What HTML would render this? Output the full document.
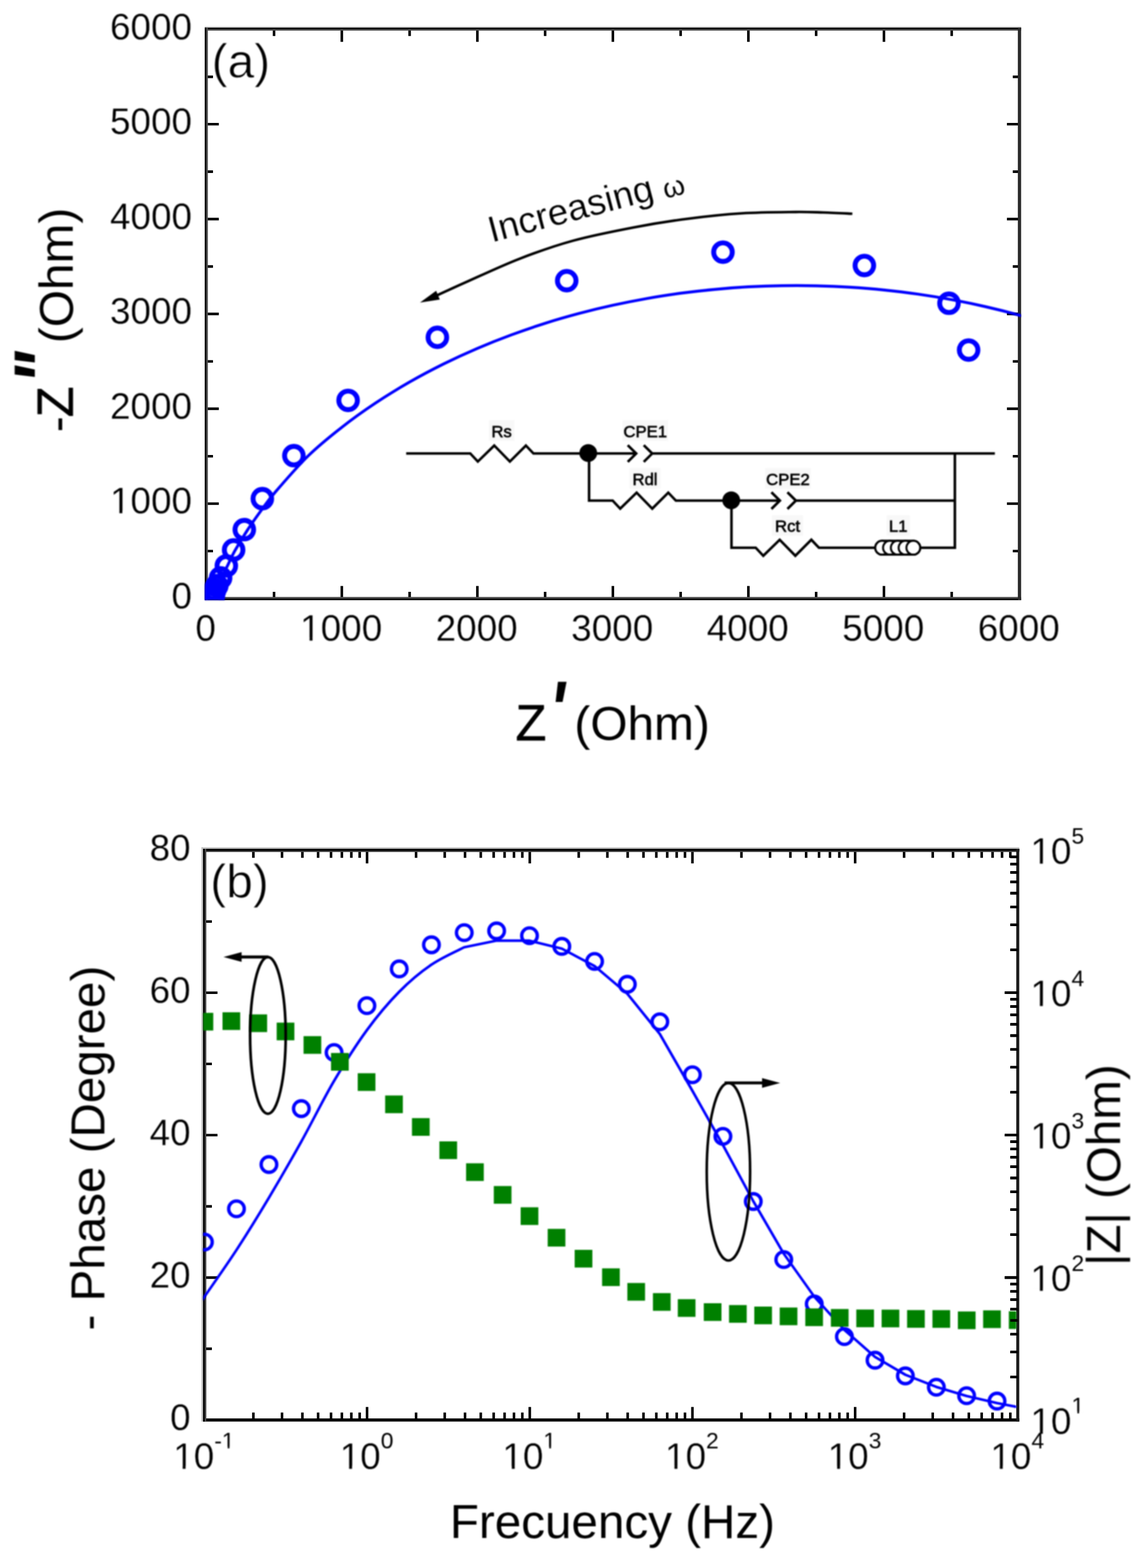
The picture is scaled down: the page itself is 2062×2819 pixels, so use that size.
<!DOCTYPE html>
<html lang="en">
<head>
<meta charset="utf-8">
<title>Impedance spectra: Nyquist and Bode plots</title>
<style>
html,body{margin:0;padding:0;background:#fff;}
body{width:2062px;height:2819px;overflow:hidden;}
svg{display:block;}
svg text{font-family:"Liberation Sans", sans-serif;fill:#000;}
svg text.tk{stroke:#fff;stroke-width:0.35px;}
svg text.pl{stroke:#fff;stroke-width:1.0px;}
svg text.bz{stroke:#000;stroke-width:0.9px;}
</style>
</head>
<body>
<svg width="2062" height="2819" viewBox="0 0 2062 2819">
<defs><filter id="bl" x="-2%" y="-2%" width="104%" height="104%" color-interpolation-filters="sRGB"><feGaussianBlur stdDeviation="0.8"/></filter></defs>
<rect width="2062" height="2819" fill="#fff"/>
<g id="plotA">
<path d="M492.7,1076.0 v-12.0 M492.7,52.8 v12.0 M370.9,990.7 h12.0 M1832.7,990.7 h-12.0 M614.5,1076.0 v-22.5 M614.5,52.8 v22.5 M370.9,905.5 h22.5 M1832.7,905.5 h-22.5 M736.4,1076.0 v-12.0 M736.4,52.8 v12.0 M370.9,820.2 h12.0 M1832.7,820.2 h-12.0 M858.2,1076.0 v-22.5 M858.2,52.8 v22.5 M370.9,734.9 h22.5 M1832.7,734.9 h-22.5 M980.0,1076.0 v-12.0 M980.0,52.8 v12.0 M370.9,649.7 h12.0 M1832.7,649.7 h-12.0 M1101.8,1076.0 v-22.5 M1101.8,52.8 v22.5 M370.9,564.4 h22.5 M1832.7,564.4 h-22.5 M1223.6,1076.0 v-12.0 M1223.6,52.8 v12.0 M370.9,479.1 h12.0 M1832.7,479.1 h-12.0 M1345.4,1076.0 v-22.5 M1345.4,52.8 v22.5 M370.9,393.9 h22.5 M1832.7,393.9 h-22.5 M1467.2,1076.0 v-12.0 M1467.2,52.8 v12.0 M370.9,308.6 h12.0 M1832.7,308.6 h-12.0 M1589.1,1076.0 v-22.5 M1589.1,52.8 v22.5 M370.9,223.3 h22.5 M1832.7,223.3 h-22.5 M1710.9,1076.0 v-12.0 M1710.9,52.8 v12.0 M370.9,138.1 h12.0 M1832.7,138.1 h-12.0" stroke="#000" stroke-width="4.6" fill="none"/>
<rect x="368.1" y="46.9" width="1467.6" height="2.8" fill="#e4e4e4"/>
<rect x="368.1" y="1078.9" width="1467.6" height="2.7" fill="#f0f0f0"/>
<rect x="368.1" y="49.7" width="1467.6" height="5.4" fill="#505050"/>
<rect x="368.1" y="49.7" width="1467.6" height="2.7" fill="#000"/>
<rect x="368.1" y="1073.2" width="1467.6" height="5.7" fill="#505050"/>
<rect x="368.1" y="1076.2" width="1467.6" height="2.7" fill="#000"/>
<rect x="368.1" y="49.7" width="5.6" height="1029.2" fill="#505050"/>
<rect x="368.1" y="49.7" width="2.8" height="1029.2" fill="#000"/>
<rect x="1829.8" y="49.7" width="5.9" height="1029.2" fill="#2a2a2a"/>
<g filter="url(#bl)">
<text class="tk" x="351.26" y="1151.60" font-size="66.3">0</text>
<text class="tk" x="308.33" y="1093.90" font-size="66.3">0</text>
<text class="tk" x="539.59" y="1151.60" font-size="66.3">1000</text>
<rect x="543.94" y="1146.15" width="12.62" height="6.15" fill="#fff"/><rect x="561.82" y="1146.15" width="12.10" height="6.15" fill="#fff"/>
<text class="tk" x="197.71" y="923.37" font-size="66.3">1000</text>
<rect x="202.06" y="917.91" width="12.62" height="6.15" fill="#fff"/><rect x="219.94" y="917.91" width="12.10" height="6.15" fill="#fff"/>
<text class="tk" x="783.22" y="1151.60" font-size="66.3">2000</text>
<text class="tk" x="197.71" y="752.83" font-size="66.3">2000</text>
<text class="tk" x="1026.85" y="1151.60" font-size="66.3">3000</text>
<text class="tk" x="197.71" y="582.30" font-size="66.3">3000</text>
<text class="tk" x="1270.49" y="1151.60" font-size="66.3">4000</text>
<text class="tk" x="197.71" y="411.77" font-size="66.3">4000</text>
<text class="tk" x="1514.12" y="1151.60" font-size="66.3">5000</text>
<text class="tk" x="197.71" y="241.23" font-size="66.3">5000</text>
<text class="tk" x="1757.75" y="1151.60" font-size="66.3">6000</text>
<text class="tk" x="197.71" y="70.70" font-size="66.3">6000</text>
<text class="pl" x="380.5" y="138.8" font-size="86">(a)</text>
<text class="bz" x="926.8" y="1330.6" font-size="91">Z</text>
<text transform="translate(987.5,1326) scale(1.22,1.5)" font-size="96" font-weight="bold" font-style="italic">'</text>
<text x="1032.5" y="1330.3" font-size="86">(Ohm)</text>
<g transform="translate(130.8,0) rotate(-90)">
<text x="-777" y="0" font-size="86">-</text>
<text class="bz" x="-750.3" y="0" font-size="91">Z</text>
<text transform="translate(-691,-4.2) scale(1.3,1.5)" font-size="96" font-weight="bold" font-style="italic">"</text>
<text x="-617" y="0" font-size="86">(Ohm)</text>
</g>
<clipPath id="clipA"><rect x="368.3" y="50.2" width="1467.0" height="1028.4"/></clipPath>
<g clip-path="url(#clipA)">
<path d="M384.5,1078.0 C385.4,1075.0 387.8,1066.3 390.0,1060.0 C392.2,1053.7 394.7,1047.5 398.0,1040.0 C401.3,1032.5 405.9,1023.3 410.0,1015.0 C414.1,1006.7 416.6,1000.2 422.3,990.0 C428.1,979.8 436.7,965.5 444.5,953.5 C452.3,941.5 460.8,929.6 469.1,918.3 C477.4,907.0 480.1,901.9 494.2,885.5 C508.3,869.1 533.6,839.6 553.6,820.0 C573.7,800.5 594.2,784.1 614.5,768.2 C634.8,752.2 655.1,737.9 675.4,724.4 C695.7,710.8 716.0,698.5 736.4,686.8 C756.7,675.2 777.0,664.5 797.3,654.4 C817.6,644.3 837.9,635.0 858.2,626.3 C878.5,617.6 898.8,609.6 919.1,602.1 C939.4,594.6 959.7,587.7 980.0,581.2 C1000.3,574.8 1020.6,569.0 1040.9,563.6 C1061.2,558.1 1081.5,553.2 1101.8,548.8 C1122.1,544.3 1142.4,540.3 1162.7,536.7 C1183.0,533.1 1203.3,530.0 1223.6,527.2 C1243.9,524.5 1264.2,522.2 1284.5,520.3 C1304.8,518.3 1325.1,516.8 1345.4,515.7 C1365.7,514.6 1386.0,513.9 1406.3,513.6 C1426.6,513.3 1446.9,513.3 1467.2,513.8 C1487.6,514.3 1507.9,515.1 1528.2,516.4 C1548.5,517.7 1568.8,519.3 1589.1,521.4 C1609.4,523.5 1629.7,525.9 1650.0,528.8 C1670.3,531.7 1690.6,535.0 1710.9,538.8 C1731.2,542.5 1751.5,546.7 1771.8,551.4 C1792.1,556.0 1812.4,561.1 1832.7,566.7 C1853.0,572.3 1883.5,581.9 1893.6,585.0" stroke="#0000ff" stroke-width="5.2" fill="none"/>
<circle cx="383.0" cy="1077.0" r="16.7" fill="none" stroke="#0000ff" stroke-width="8.9"/>
<circle cx="383.0" cy="1075.5" r="16.7" fill="none" stroke="#0000ff" stroke-width="8.9"/>
<circle cx="383.1" cy="1074.0" r="16.7" fill="none" stroke="#0000ff" stroke-width="8.9"/>
<circle cx="383.3" cy="1072.0" r="16.7" fill="none" stroke="#0000ff" stroke-width="8.9"/>
<circle cx="383.6" cy="1069.5" r="16.7" fill="none" stroke="#0000ff" stroke-width="8.9"/>
<circle cx="384.3" cy="1066.0" r="16.7" fill="none" stroke="#0000ff" stroke-width="8.9"/>
<circle cx="386.0" cy="1061.0" r="16.7" fill="none" stroke="#0000ff" stroke-width="8.9"/>
<circle cx="389.8" cy="1053.0" r="16.7" fill="none" stroke="#0000ff" stroke-width="8.9"/>
<circle cx="396.6" cy="1039.0" r="16.7" fill="none" stroke="#0000ff" stroke-width="8.9"/>
<circle cx="406.9" cy="1017.3" r="16.7" fill="none" stroke="#0000ff" stroke-width="8.9"/>
<circle cx="420.0" cy="988.6" r="16.7" fill="none" stroke="#0000ff" stroke-width="8.9"/>
<circle cx="439.2" cy="952.2" r="16.7" fill="none" stroke="#0000ff" stroke-width="8.9"/>
<circle cx="471.6" cy="896.5" r="16.7" fill="none" stroke="#0000ff" stroke-width="8.9"/>
<circle cx="528.3" cy="819.2" r="16.7" fill="none" stroke="#0000ff" stroke-width="8.9"/>
<circle cx="625.8" cy="719.8" r="16.7" fill="none" stroke="#0000ff" stroke-width="8.9"/>
<circle cx="786.3" cy="606.4" r="16.7" fill="none" stroke="#0000ff" stroke-width="8.9"/>
<circle cx="1018.8" cy="504.6" r="16.7" fill="none" stroke="#0000ff" stroke-width="8.9"/>
<circle cx="1299.7" cy="453.3" r="16.7" fill="none" stroke="#0000ff" stroke-width="8.9"/>
<circle cx="1553.9" cy="477.3" r="16.7" fill="none" stroke="#0000ff" stroke-width="8.9"/>
<circle cx="1706.0" cy="545.2" r="16.7" fill="none" stroke="#0000ff" stroke-width="8.9"/>
<circle cx="1741.3" cy="629.3" r="16.7" fill="none" stroke="#0000ff" stroke-width="8.9"/>
</g>
<path d="M1532.3,384.3 C1523.6,383.9 1497.0,382.5 1480.0,382.0 C1463.0,381.5 1455.0,380.9 1430.6,381.1 C1406.2,381.4 1366.0,381.5 1333.7,383.5 C1301.4,385.5 1269.2,389.0 1236.9,393.2 C1204.6,397.4 1174.4,402.1 1140.0,408.7 C1105.6,415.3 1065.0,423.2 1030.6,432.6 C996.2,442.0 966.0,452.8 933.7,465.3 C901.4,477.8 862.5,496.3 836.9,507.7 C811.3,519.1 789.5,529.2 780.0,533.5" stroke="#000" stroke-width="4.6" fill="none"/>
<path d="M755.0,544.0 L784.1,522.8 L790.6,538.5 Z" fill="#000"/>
<g transform="translate(884,436) rotate(-14.8)"><text class="tk" x="0" y="0" font-size="66">Increasing</text></g>
<g transform="translate(1212.6,342.2) rotate(-14.8) scale(0.9,0.9)"><text x="0" y="11.5" font-size="56" text-anchor="middle" font-family="'Liberation Serif', 'DejaVu Serif', serif">ω</text></g>
<path d="M730.2,815.3 L845.4,815.3 L859.0,829.8 L888.5,801.0 L916.6,829.8 L945.4,801.0 L959.0,815.3 L1143.0,815.3 M1128.5,800.3 L1143.7,815.3 L1128.5,830.3 M1157.3,800.3 L1172.5,815.3 L1157.3,830.3 M1172.5,815.3 L1788.5,815.3 M1059.0,815.3 L1059.0,900.0 L1101.4,900.0 L1115.0,914.5 L1144.5,885.7 L1172.6,914.5 L1201.4,885.7 L1215.0,900.0 L1401.5,900.0 M1386.8,885.0 L1402.0,900.0 L1386.8,915.0 M1415.6,885.0 L1430.8,900.0 L1415.6,915.0 M1430.8,900.0 L1716.6,900.0 M1315.0,900.0 L1315.0,984.7 L1358.6,984.7 L1372.2,999.2 L1401.7,970.4 L1429.8,999.2 L1458.6,970.4 L1472.2,984.7 L1574.0,984.7 M1654.0,984.7 L1716.6,984.7 L1716.6,815.3" stroke="#000" stroke-width="4.6" fill="none" stroke-linejoin="miter"/>
<circle cx="1057.5" cy="814.5" r="16" fill="#000"/>
<circle cx="1314.6" cy="899.5" r="16" fill="#000"/>
<rect x="1573.5" y="972.3" width="80.8" height="24.8" rx="12.4" fill="#fff" stroke="#000" stroke-width="4"/>
<circle cx="1585.9" cy="984.7" r="12.4" fill="#fff" stroke="#000" stroke-width="3.6"/>
<circle cx="1599.9" cy="984.7" r="12.4" fill="#fff" stroke="#000" stroke-width="3.6"/>
<circle cx="1613.9" cy="984.7" r="12.4" fill="#fff" stroke="#000" stroke-width="3.6"/>
<circle cx="1627.9" cy="984.7" r="12.4" fill="#fff" stroke="#000" stroke-width="3.6"/>
<circle cx="1641.9" cy="984.7" r="12.4" fill="#fff" stroke="#000" stroke-width="3.6"/>
<rect x="878.8" y="755.5" width="46.0" height="37" fill="#f8f8f8"/>
<text x="901.8" y="785.5" font-size="30" text-anchor="middle" stroke="#000" stroke-width="1.0">Rs</text>
<rect x="1119.0" y="755.5" width="82.0" height="37" fill="#f8f8f8"/>
<text x="1160.0" y="785.5" font-size="30" text-anchor="middle" stroke="#000" stroke-width="1.0">CPE1</text>
<rect x="1131.5" y="841.5" width="56.0" height="37" fill="#f8f8f8"/>
<text x="1159.5" y="871.5" font-size="30" text-anchor="middle" stroke="#000" stroke-width="1.0">Rdl</text>
<rect x="1375.5" y="841.5" width="82.0" height="37" fill="#f8f8f8"/>
<text x="1416.5" y="871.5" font-size="30" text-anchor="middle" stroke="#000" stroke-width="1.0">CPE2</text>
<rect x="1387.8" y="926.3" width="56.0" height="37" fill="#f8f8f8"/>
<text x="1415.8" y="956.3" font-size="30" text-anchor="middle" stroke="#000" stroke-width="1.0">Rct</text>
<rect x="1593.7" y="926.3" width="42.0" height="37" fill="#f8f8f8"/>
<text x="1614.7" y="956.3" font-size="30" text-anchor="middle" stroke="#000" stroke-width="1.0">L1</text>
</g>
</g>
<g id="plotB">
<path d="M455.5,2552.9 v-13.4 M455.5,1528.8 v13.4 M507.0,2552.9 v-13.4 M507.0,1528.8 v13.4 M543.6,2552.9 v-13.4 M543.6,1528.8 v13.4 M571.9,2552.9 v-13.4 M571.9,1528.8 v13.4 M595.1,2552.9 v-13.4 M595.1,1528.8 v13.4 M614.6,2552.9 v-13.4 M614.6,1528.8 v13.4 M631.6,2552.9 v-13.4 M631.6,1528.8 v13.4 M646.6,2552.9 v-13.4 M646.6,1528.8 v13.4 M659.9,2552.9 v-23.5 M659.9,1528.8 v23.5 M748.0,2552.9 v-13.4 M748.0,1528.8 v13.4 M799.5,2552.9 v-13.4 M799.5,1528.8 v13.4 M836.0,2552.9 v-13.4 M836.0,1528.8 v13.4 M864.3,2552.9 v-13.4 M864.3,1528.8 v13.4 M887.5,2552.9 v-13.4 M887.5,1528.8 v13.4 M907.1,2552.9 v-13.4 M907.1,1528.8 v13.4 M924.0,2552.9 v-13.4 M924.0,1528.8 v13.4 M939.0,2552.9 v-13.4 M939.0,1528.8 v13.4 M952.4,2552.9 v-23.5 M952.4,1528.8 v23.5 M1040.4,2552.9 v-13.4 M1040.4,1528.8 v13.4 M1091.9,2552.9 v-13.4 M1091.9,1528.8 v13.4 M1128.4,2552.9 v-13.4 M1128.4,1528.8 v13.4 M1156.8,2552.9 v-13.4 M1156.8,1528.8 v13.4 M1179.9,2552.9 v-13.4 M1179.9,1528.8 v13.4 M1199.5,2552.9 v-13.4 M1199.5,1528.8 v13.4 M1216.5,2552.9 v-13.4 M1216.5,1528.8 v13.4 M1231.4,2552.9 v-13.4 M1231.4,1528.8 v13.4 M1244.8,2552.9 v-23.5 M1244.8,1528.8 v23.5 M1332.9,2552.9 v-13.4 M1332.9,1528.8 v13.4 M1384.3,2552.9 v-13.4 M1384.3,1528.8 v13.4 M1420.9,2552.9 v-13.4 M1420.9,1528.8 v13.4 M1449.2,2552.9 v-13.4 M1449.2,1528.8 v13.4 M1472.4,2552.9 v-13.4 M1472.4,1528.8 v13.4 M1492.0,2552.9 v-13.4 M1492.0,1528.8 v13.4 M1508.9,2552.9 v-13.4 M1508.9,1528.8 v13.4 M1523.9,2552.9 v-13.4 M1523.9,1528.8 v13.4 M1537.3,2552.9 v-23.5 M1537.3,1528.8 v23.5 M1625.3,2552.9 v-13.4 M1625.3,1528.8 v13.4 M1676.8,2552.9 v-13.4 M1676.8,1528.8 v13.4 M1713.3,2552.9 v-13.4 M1713.3,1528.8 v13.4 M1741.7,2552.9 v-13.4 M1741.7,1528.8 v13.4 M1764.8,2552.9 v-13.4 M1764.8,1528.8 v13.4 M1784.4,2552.9 v-13.4 M1784.4,1528.8 v13.4 M1801.4,2552.9 v-13.4 M1801.4,1528.8 v13.4 M1816.3,2552.9 v-13.4 M1816.3,1528.8 v13.4 M367.5,2424.9 h13.4 M367.5,2296.9 h23.5 M367.5,2168.9 h13.4 M367.5,2040.8 h23.5 M367.5,1912.8 h13.4 M367.5,1784.8 h23.5 M367.5,1656.8 h13.4 M1829.7,2475.8 h-13.4 M1829.7,2430.7 h-13.4 M1829.7,2398.8 h-13.4 M1829.7,2373.9 h-13.4 M1829.7,2353.7 h-13.4 M1829.7,2336.5 h-13.4 M1829.7,2321.7 h-13.4 M1829.7,2308.6 h-13.4 M1829.7,2296.9 h-23.5 M1829.7,2219.8 h-13.4 M1829.7,2174.7 h-13.4 M1829.7,2142.7 h-13.4 M1829.7,2117.9 h-13.4 M1829.7,2097.6 h-13.4 M1829.7,2080.5 h-13.4 M1829.7,2065.7 h-13.4 M1829.7,2052.6 h-13.4 M1829.7,2040.8 h-23.5 M1829.7,1963.8 h-13.4 M1829.7,1918.7 h-13.4 M1829.7,1886.7 h-13.4 M1829.7,1861.9 h-13.4 M1829.7,1841.6 h-13.4 M1829.7,1824.5 h-13.4 M1829.7,1809.6 h-13.4 M1829.7,1796.5 h-13.4 M1829.7,1784.8 h-23.5 M1829.7,1707.8 h-13.4 M1829.7,1662.7 h-13.4 M1829.7,1630.7 h-13.4 M1829.7,1605.9 h-13.4 M1829.7,1585.6 h-13.4 M1829.7,1568.5 h-13.4 M1829.7,1553.6 h-13.4 M1829.7,1540.5 h-13.4" stroke="#000" stroke-width="4.6" fill="none"/>
<rect x="362.1" y="1523.3" width="3.0" height="1032.4" fill="#c0c0c0"/>
<rect x="362.1" y="1523.3" width="1470.3" height="2.7" fill="#c0c0c0"/>
<rect x="365.1" y="1526.0" width="1467.3" height="5.8" fill="#484848"/>
<rect x="365.1" y="1526.0" width="1467.3" height="3.7" fill="#000"/>
<rect x="365.1" y="2550.1" width="1467.3" height="5.6" fill="#000"/>
<rect x="365.1" y="1526.0" width="5.8" height="1029.7" fill="#484848"/>
<rect x="365.1" y="1526.0" width="3.0" height="1029.7" fill="#000"/>
<rect x="1827.0" y="1526.0" width="5.4" height="1029.7" fill="#1c1c1c"/>
<g filter="url(#bl)">
<text class="tk" x="305.83" y="2571.40" font-size="66.3">0</text>
<text class="tk" x="268.95" y="2315.38" font-size="66.3">20</text>
<text class="tk" x="268.95" y="2059.35" font-size="66.3">40</text>
<text class="tk" x="268.95" y="1803.33" font-size="66.3">60</text>
<text class="tk" x="268.95" y="1547.30" font-size="66.3">80</text>
<text class="tk" x="1852.50" y="2577.50" font-size="66.3">10<tspan font-size="41" dy="-36.6" stroke="none">1</tspan></text>
<rect x="1856.85" y="2572.05" width="12.62" height="6.15" fill="#fff"/><rect x="1874.73" y="2572.05" width="12.10" height="6.15" fill="#fff"/><rect x="1928.67" y="2537.34" width="8.19" height="4.26" fill="#fff"/><rect x="1939.88" y="2537.34" width="7.87" height="4.26" fill="#fff"/>
<text class="tk" x="1852.50" y="2321.47" font-size="66.3">10<tspan font-size="41" dy="-36.6" stroke="none">2</tspan></text>
<rect x="1856.85" y="2316.02" width="12.62" height="6.15" fill="#fff"/><rect x="1874.73" y="2316.02" width="12.10" height="6.15" fill="#fff"/>
<text class="tk" x="1852.50" y="2065.45" font-size="66.3">10<tspan font-size="41" dy="-36.6" stroke="none">3</tspan></text>
<rect x="1856.85" y="2060.00" width="12.62" height="6.15" fill="#fff"/><rect x="1874.73" y="2060.00" width="12.10" height="6.15" fill="#fff"/>
<text class="tk" x="1852.50" y="1809.42" font-size="66.3">10<tspan font-size="41" dy="-36.6" stroke="none">4</tspan></text>
<rect x="1856.85" y="1803.97" width="12.62" height="6.15" fill="#fff"/><rect x="1874.73" y="1803.97" width="12.10" height="6.15" fill="#fff"/>
<text class="tk" x="1852.50" y="1553.40" font-size="66.3">10<tspan font-size="41" dy="-36.6" stroke="none">5</tspan></text>
<rect x="1856.85" y="1547.95" width="12.62" height="6.15" fill="#fff"/><rect x="1874.73" y="1547.95" width="12.10" height="6.15" fill="#fff"/>
<text class="tk" x="311.40" y="2641.00" font-size="66.3">10<tspan font-size="41" dy="-36.6" stroke="none">-1</tspan></text>
<rect x="315.75" y="2635.55" width="12.62" height="6.15" fill="#fff"/><rect x="333.63" y="2635.55" width="12.10" height="6.15" fill="#fff"/><rect x="401.22" y="2600.84" width="8.19" height="4.26" fill="#fff"/><rect x="412.43" y="2600.84" width="7.87" height="4.26" fill="#fff"/>
<text class="tk" x="610.67" y="2641.00" font-size="66.3">10<tspan font-size="41" dy="-36.6" stroke="none">0</tspan></text>
<rect x="615.02" y="2635.55" width="12.62" height="6.15" fill="#fff"/><rect x="632.90" y="2635.55" width="12.10" height="6.15" fill="#fff"/>
<text class="tk" x="903.11" y="2641.00" font-size="66.3">10<tspan font-size="41" dy="-36.6" stroke="none">1</tspan></text>
<rect x="907.46" y="2635.55" width="12.62" height="6.15" fill="#fff"/><rect x="925.34" y="2635.55" width="12.10" height="6.15" fill="#fff"/><rect x="979.28" y="2600.84" width="8.19" height="4.26" fill="#fff"/><rect x="990.49" y="2600.84" width="7.87" height="4.26" fill="#fff"/>
<text class="tk" x="1195.55" y="2641.00" font-size="66.3">10<tspan font-size="41" dy="-36.6" stroke="none">2</tspan></text>
<rect x="1199.90" y="2635.55" width="12.62" height="6.15" fill="#fff"/><rect x="1217.78" y="2635.55" width="12.10" height="6.15" fill="#fff"/>
<text class="tk" x="1487.99" y="2641.00" font-size="66.3">10<tspan font-size="41" dy="-36.6" stroke="none">3</tspan></text>
<rect x="1492.34" y="2635.55" width="12.62" height="6.15" fill="#fff"/><rect x="1510.22" y="2635.55" width="12.10" height="6.15" fill="#fff"/>
<text class="tk" x="1780.43" y="2641.00" font-size="66.3">10<tspan font-size="41" dy="-36.6" stroke="none">4</tspan></text>
<rect x="1784.78" y="2635.55" width="12.62" height="6.15" fill="#fff"/><rect x="1802.66" y="2635.55" width="12.10" height="6.15" fill="#fff"/>
<text class="pl" x="378" y="1614.3" font-size="86">(b)</text>
<text x="1101" y="2764.6" font-size="85.5" text-anchor="middle">Frecuency (Hz)</text>
<text transform="translate(187.6,2064) rotate(-90)" font-size="85.5" text-anchor="middle">- Phase (Degree)</text>
<text transform="translate(2013.6,2094.6) rotate(-90)" font-size="85.5" text-anchor="middle">|Z| (Ohm)</text>
<clipPath id="clipB"><rect x="365.3" y="1526.2" width="1461.9" height="1029.3"/></clipPath>
<g clip-path="url(#clipB)">
<path d="M364.0,2336.8 C364.6,2335.9 357.3,2346.2 367.5,2331.3 C377.7,2316.4 405.8,2277.0 425.1,2247.3 C444.4,2217.6 464.1,2185.7 483.5,2153.2 C502.9,2120.7 522.1,2087.5 541.6,2052.5 C561.1,2017.5 580.9,1976.7 600.6,1943.3 C620.3,1909.9 640.1,1878.7 659.6,1852.0 C679.1,1825.3 698.4,1802.6 717.7,1783.0 C737.0,1763.4 756.1,1747.6 775.6,1734.3 C795.1,1721.0 824.8,1708.2 834.6,1703.0 L893.0,1691.0 L952.0,1691.2 L1010.0,1705.5 L1068.9,1736.8 L1127.7,1786.5 L1186.2,1859.0 L1244.7,1961.0 L1299.6,2058.5 L1354.2,2159.5 L1409.0,2254.0 L1464.1,2331.5 L1518.0,2391.0 L1573.0,2439.5 L1627.7,2471.6 L1683.3,2493.4 L1737.7,2509.7 L1792.5,2522.5 L1830.0,2529.8" stroke="#0000ff" stroke-width="4.7" fill="none" stroke-linejoin="round"/>
<circle cx="367.5" cy="2233.0" r="14" fill="none" stroke="#0000ff" stroke-width="6.1"/>
<circle cx="425.1" cy="2173.2" r="14" fill="none" stroke="#0000ff" stroke-width="6.1"/>
<circle cx="483.5" cy="2093.6" r="14" fill="none" stroke="#0000ff" stroke-width="6.1"/>
<circle cx="541.7" cy="1993.1" r="14" fill="none" stroke="#0000ff" stroke-width="6.1"/>
<circle cx="600.6" cy="1892.3" r="14" fill="none" stroke="#0000ff" stroke-width="6.1"/>
<circle cx="659.6" cy="1808.0" r="14" fill="none" stroke="#0000ff" stroke-width="6.1"/>
<circle cx="717.7" cy="1741.9" r="14" fill="none" stroke="#0000ff" stroke-width="6.1"/>
<circle cx="775.6" cy="1698.6" r="14" fill="none" stroke="#0000ff" stroke-width="6.1"/>
<circle cx="834.6" cy="1676.7" r="14" fill="none" stroke="#0000ff" stroke-width="6.1"/>
<circle cx="892.8" cy="1673.6" r="14" fill="none" stroke="#0000ff" stroke-width="6.1"/>
<circle cx="951.9" cy="1682.2" r="14" fill="none" stroke="#0000ff" stroke-width="6.1"/>
<circle cx="1010.0" cy="1701.4" r="14" fill="none" stroke="#0000ff" stroke-width="6.1"/>
<circle cx="1068.9" cy="1728.5" r="14" fill="none" stroke="#0000ff" stroke-width="6.1"/>
<circle cx="1127.8" cy="1769.6" r="14" fill="none" stroke="#0000ff" stroke-width="6.1"/>
<circle cx="1186.2" cy="1837.0" r="14" fill="none" stroke="#0000ff" stroke-width="6.1"/>
<circle cx="1244.8" cy="1932.2" r="14" fill="none" stroke="#0000ff" stroke-width="6.1"/>
<circle cx="1299.6" cy="2043.0" r="14" fill="none" stroke="#0000ff" stroke-width="6.1"/>
<circle cx="1354.2" cy="2160.1" r="14" fill="none" stroke="#0000ff" stroke-width="6.1"/>
<circle cx="1409.0" cy="2264.5" r="14" fill="none" stroke="#0000ff" stroke-width="6.1"/>
<circle cx="1463.8" cy="2344.2" r="14" fill="none" stroke="#0000ff" stroke-width="6.1"/>
<circle cx="1518.0" cy="2403.0" r="14" fill="none" stroke="#0000ff" stroke-width="6.1"/>
<circle cx="1573.1" cy="2445.4" r="14" fill="none" stroke="#0000ff" stroke-width="6.1"/>
<circle cx="1627.6" cy="2473.6" r="14" fill="none" stroke="#0000ff" stroke-width="6.1"/>
<circle cx="1683.3" cy="2494.0" r="14" fill="none" stroke="#0000ff" stroke-width="6.1"/>
<circle cx="1737.7" cy="2509.2" r="14" fill="none" stroke="#0000ff" stroke-width="6.1"/>
<circle cx="1792.4" cy="2518.9" r="14" fill="none" stroke="#0000ff" stroke-width="6.1"/>
<rect x="351.6" y="1820.9" width="31.8" height="31.8" fill="#008000"/>
<rect x="400.0" y="1819.9" width="31.8" height="31.8" fill="#008000"/>
<rect x="448.4" y="1823.7" width="31.8" height="31.8" fill="#008000"/>
<rect x="497.4" y="1838.5" width="31.8" height="31.8" fill="#008000"/>
<rect x="545.7" y="1862.8" width="31.8" height="31.8" fill="#008000"/>
<rect x="595.1" y="1893.1" width="31.8" height="31.8" fill="#008000"/>
<rect x="643.1" y="1929.5" width="31.8" height="31.8" fill="#008000"/>
<rect x="692.4" y="1969.5" width="31.8" height="31.8" fill="#008000"/>
<rect x="740.6" y="2010.2" width="31.8" height="31.8" fill="#008000"/>
<rect x="789.9" y="2052.0" width="31.8" height="31.8" fill="#008000"/>
<rect x="837.9" y="2091.4" width="31.8" height="31.8" fill="#008000"/>
<rect x="887.7" y="2132.3" width="31.8" height="31.8" fill="#008000"/>
<rect x="936.0" y="2170.5" width="31.8" height="31.8" fill="#008000"/>
<rect x="984.6" y="2209.3" width="31.8" height="31.8" fill="#008000"/>
<rect x="1033.1" y="2247.0" width="31.8" height="31.8" fill="#008000"/>
<rect x="1082.4" y="2280.3" width="31.8" height="31.8" fill="#008000"/>
<rect x="1127.8" y="2306.6" width="31.8" height="31.8" fill="#008000"/>
<rect x="1173.8" y="2324.8" width="31.8" height="31.8" fill="#008000"/>
<rect x="1218.5" y="2335.7" width="31.8" height="31.8" fill="#008000"/>
<rect x="1265.2" y="2343.0" width="31.8" height="31.8" fill="#008000"/>
<rect x="1310.6" y="2346.3" width="31.8" height="31.8" fill="#008000"/>
<rect x="1356.0" y="2349.0" width="31.8" height="31.8" fill="#008000"/>
<rect x="1401.7" y="2350.7" width="31.8" height="31.8" fill="#008000"/>
<rect x="1447.7" y="2352.3" width="31.8" height="31.8" fill="#008000"/>
<rect x="1493.7" y="2353.4" width="31.8" height="31.8" fill="#008000"/>
<rect x="1539.4" y="2354.3" width="31.8" height="31.8" fill="#008000"/>
<rect x="1584.9" y="2354.5" width="31.8" height="31.8" fill="#008000"/>
<rect x="1630.7" y="2355.3" width="31.8" height="31.8" fill="#008000"/>
<rect x="1676.3" y="2355.4" width="31.8" height="31.8" fill="#008000"/>
<rect x="1722.0" y="2357.8" width="31.8" height="31.8" fill="#008000"/>
<rect x="1767.4" y="2355.8" width="31.8" height="31.8" fill="#008000"/>
<rect x="1813.6" y="2357.4" width="31.8" height="31.8" fill="#008000"/>
</g>
</g>
<path d="M1829.7,2475.8 h-13.4 M1829.7,2430.7 h-13.4 M1829.7,2398.8 h-13.4 M1829.7,2373.9 h-13.4 M1829.7,2353.7 h-13.4 M1829.7,2336.5 h-13.4 M1829.7,2321.7 h-13.4 M1829.7,2308.6 h-13.4 M1829.7,2296.9 h-23.5 M1829.7,2219.8 h-13.4 M1829.7,2174.7 h-13.4 M1829.7,2142.7 h-13.4 M1829.7,2117.9 h-13.4 M1829.7,2097.6 h-13.4 M1829.7,2080.5 h-13.4 M1829.7,2065.7 h-13.4 M1829.7,2052.6 h-13.4 M1829.7,2040.8 h-23.5 M1829.7,1963.8 h-13.4 M1829.7,1918.7 h-13.4 M1829.7,1886.7 h-13.4 M1829.7,1861.9 h-13.4 M1829.7,1841.6 h-13.4 M1829.7,1824.5 h-13.4 M1829.7,1809.6 h-13.4 M1829.7,1796.5 h-13.4 M1829.7,1784.8 h-23.5 M1829.7,1707.8 h-13.4 M1829.7,1662.7 h-13.4 M1829.7,1630.7 h-13.4 M1829.7,1605.9 h-13.4 M1829.7,1585.6 h-13.4 M1829.7,1568.5 h-13.4 M1829.7,1553.6 h-13.4 M1829.7,1540.5 h-13.4" stroke="#000" stroke-width="4.6" fill="none"/>
<g filter="url(#bl)">
<ellipse cx="481.6" cy="1861.5" rx="32" ry="140.8" fill="none" stroke="#000" stroke-width="4.8"/>
<path d="M482.5,1720.5 H430" stroke="#000" stroke-width="5.4" fill="none"/>
<path d="M401.8,1720.5 L434.3,1711.8 L434.3,1729.2 Z" fill="#000"/>
<ellipse cx="1309.5" cy="2106.6" rx="39" ry="159.6" fill="none" stroke="#000" stroke-width="4.6"/>
<path d="M1302.5,1946.9 H1375" stroke="#000" stroke-width="5.4" fill="none"/>
<path d="M1402.5,1946.9 L1370.0,1955.7 L1370.0,1938.2 Z" fill="#000"/>
</g>
</g>
</svg>
</body>
</html>
